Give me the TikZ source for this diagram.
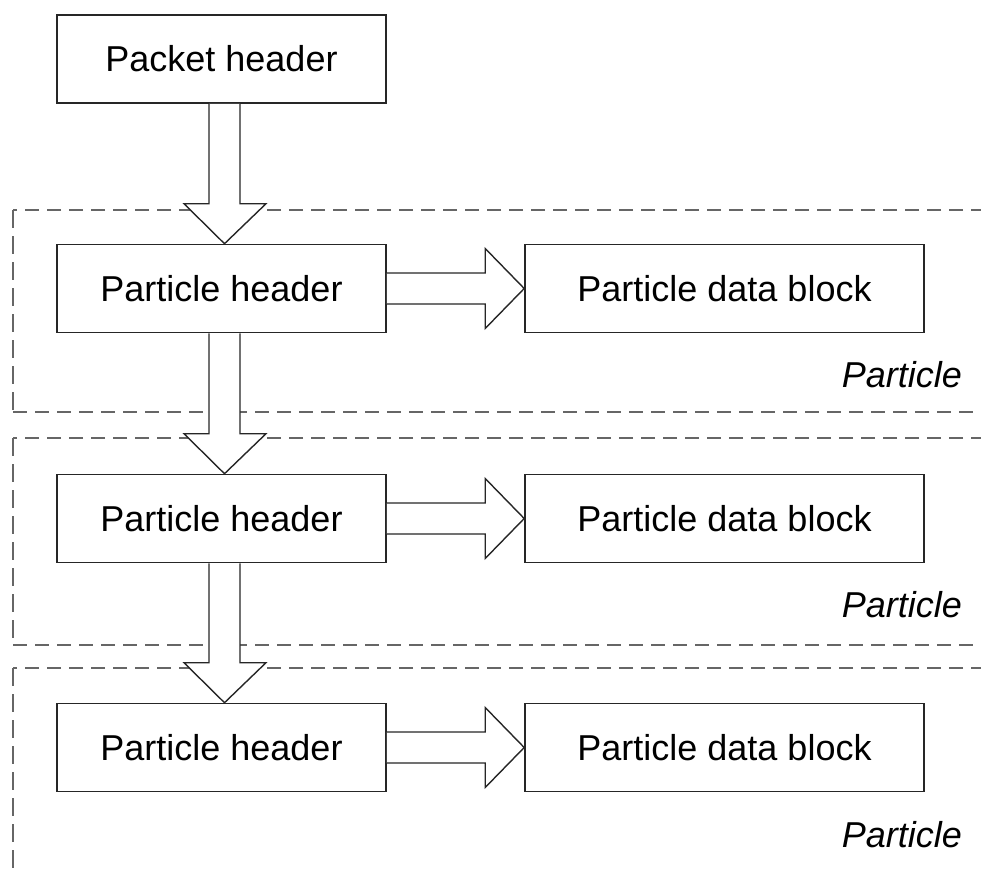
\documentclass[tikz,border=0pt]{standalone}
\usepackage{fontspec}
\setmainfont{Liberation Sans}
\usetikzlibrary{calc}
\tikzset{
  box/.style={draw=black!85, line width=1.6pt, fill=white, minimum height=88pt, inner sep=0pt, font=\fontsize{36}{42}\selectfont},
  hbox/.style={box, minimum width=329pt},
  dbox/.style={box, minimum width=399pt},
  blockarr/.style={draw=black!85, line width=1.4pt, fill=white, line join=miter},
  region/.style={draw=black!60, line width=2.4pt, dash pattern=on 14pt off 8pt},
  vregion/.style={draw=black!60, line width=2.4pt, dash pattern=on 18pt off 8pt},
  plabel/.style={anchor=east, inner sep=0pt, font=\fontsize{36}{42}\selectfont\itshape}
}
\newcommand\vblockarrow[2]{%
  \draw[blockarr] ($(#1.south)+(-12.5,0)$) -- ($(#2.north)+(-12.5,-40)$) -- ($(#2.north)+(-37.5,-40)$) -- ($(#2.north)+(3,0)$) -- ($(#2.north)+(44.5,-40)$) -- ($(#2.north)+(18.5,-40)$) -- ($(#1.south)+(18.5,0)$);}
\newcommand\hblockarrow[2]{%
  \draw[blockarr] ($(#1.east)+(0,-15.5)$) -- ($(#2.west)+(-39,-15.5)$) -- ($(#2.west)+(-39,-40)$) -- (#2.west) -- ($(#2.west)+(-39,40)$) -- ($(#2.west)+(-39,15.5)$) -- ($(#1.east)+(0,15.5)$);}
\begin{document}
\begin{tikzpicture}[x=1pt,y=-1pt]
\useasboundingbox (0,0) rectangle (981,870);
% particle regions
\draw[region] (985,210) -- (13,210);
\draw[vregion] (13,210) -- (13,412);
\draw[region] (13,412) -- (985,412);
\draw[region] (985,438) -- (13,438);
\draw[vregion] (13,438) -- (13,645);
\draw[region] (13,645) -- (985,645);
\draw[region] (985,668) -- (13,668);
\draw[vregion] (13,668) -- (13,875);
% boxes
\node[hbox] (ph) at (221.5,59) {Packet header\hspace{8pt}};
\node[hbox] (h1) at (221.5,288.5) {Particle header};
\node[hbox] (h2) at (221.5,518.5) {Particle header};
\node[hbox] (h3) at (221.5,747.5) {Particle header};
\node[dbox] (d1) at (724.5,288.5) {Particle data block\hspace{20pt}};
\node[dbox] (d2) at (724.5,518.5) {Particle data block\hspace{20pt}};
\node[dbox] (d3) at (724.5,747.5) {Particle data block\hspace{20pt}};
% labels
\node[plabel] (p1) at (962,375) {Particle};
\node[plabel] (p2) at (962,605) {Particle};
\node[plabel] (p3) at (962,835) {Particle};
% arrows
\vblockarrow{ph}{h1}
\vblockarrow{h1}{h2}
\vblockarrow{h2}{h3}
\hblockarrow{h1}{d1}
\hblockarrow{h2}{d2}
\hblockarrow{h3}{d3}
\end{tikzpicture}
\end{document}
